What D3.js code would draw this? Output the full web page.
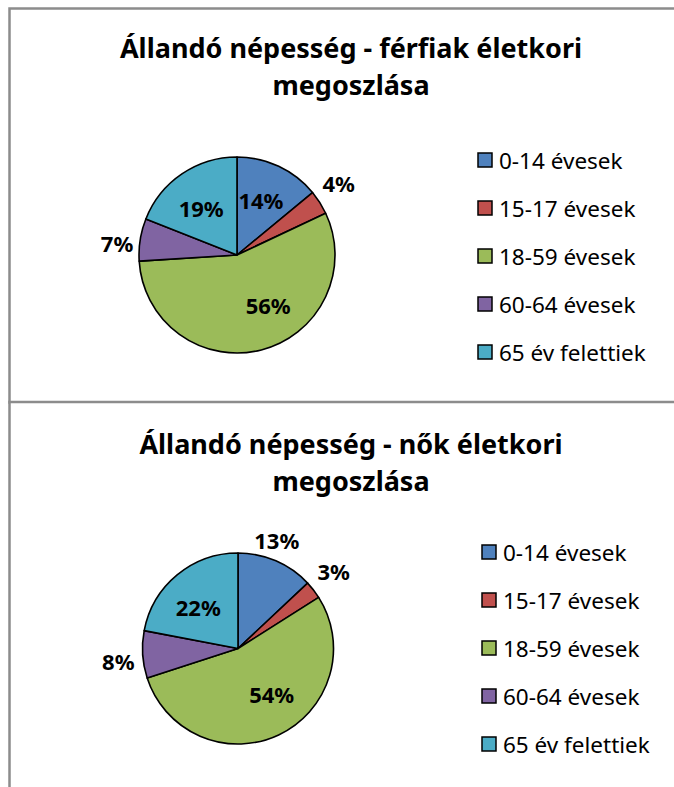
<!DOCTYPE html>
<html>
<head>
<meta charset="utf-8">
<script src="https://cdn.jsdelivr.net/npm/d3@7"></script>
<style>
  body { margin: 0; background: #fff; }
  text { font-family: "Noto Sans", "Open Sans", sans-serif; }
</style>
</head>
<body>
<script>
// Age groups and the share of each.
const categories = ['0-14 évesek', '15-17 évesek', '18-59 évesek', '60-64 évesek', '65 év felettiek'];
const colors = ['#4F81BD', '#C0504D', '#9BBB59', '#8064A2', '#4BACC6'];

const menValues = [14, 4, 56, 7, 19];
const womenValues = [13, 3, 54, 8, 22];

const menTitle = ['Állandó népesség - férfiak életkori', 'megoszlása'];
const womenTitle = ['Állandó népesség - nők életkori', 'megoszlása'];

// label placement: [radius factor, angle shift in degrees]
const menLabelPos = [[0.61, -1.6], [1.27, -2.8], [0.60, -17.6], [1.23, -3.3], [0.60, -3.3]];
const womenLabelPos = [[1.21, -3.8], [1.29, -1.2], [0.59, -11.5], [1.26, -2.2], [0.60, -4.3]];

const width = 674;
const height = 787;

const svg = d3.select('body')
  .append('svg')
  .attr('width', width)
  .attr('height', height);

const color = d3.scaleOrdinal()
  .domain(categories)
  .range(colors);

const pie = d3.pie()
  .value(d => d.value)
  .sort(null);

const drawPanel = (cfg) => {
  const g = svg.append('g');

  // panel frame (only left and top edges fall inside the picture)
  g.append('rect')
    .attr('x', 9.5)
    .attr('y', cfg.top)
    .attr('width', width + 20)
    .attr('height', cfg.height)
    .attr('fill', '#fff')
    .attr('stroke', '#8c8c8c')
    .attr('stroke-width', 2.5);

  g.append('text')
    .attr('text-anchor', 'middle')
    .attr('font-weight', 'bold')
    .attr('font-size', 27)
    .attr('fill', '#000')
    .selectAll('tspan')
    .data(cfg.title)
    .join('tspan')
    .attr('x', cfg.titleX)
    .attr('y', (d, i) => cfg.titleY + i * 37)
    .text(d => d);

  const data = categories.map((c, i) => ({ key: c, value: cfg.values[i] }));
  const arcs = pie(data);

  const arc = d3.arc()
    .innerRadius(0)
    .outerRadius(cfg.r);

  const pieG = g.append('g')
    .attr('transform', `translate(${cfg.cx}, ${cfg.cy})`);

  pieG.selectAll('path')
    .data(arcs)
    .join('path')
    .attr('d', arc)
    .attr('fill', d => color(d.data.key))
    .attr('stroke', '#000')
    .attr('stroke-width', 1.6)
    .attr('stroke-linejoin', 'round');

  pieG.selectAll('text')
    .data(arcs)
    .join('text')
    .attr('transform', (d, i) => {
      const [f, shift] = cfg.labelPos[i];
      const a = (d.startAngle + d.endAngle) / 2 + shift * Math.PI / 180;
      const rr = cfg.r * f;
      return `translate(${rr * Math.sin(a)}, ${-rr * Math.cos(a)})`;
    })
    .attr('text-anchor', 'middle')
    .attr('dominant-baseline', 'central')
    .attr('font-weight', 'bold')
    .attr('font-size', 22)
    .attr('fill', '#000')
    .text(d => d.data.value + '%');

  const legend = g.append('g')
    .attr('transform', `translate(${cfg.legendX}, ${cfg.legendY})`);

  const item = legend.selectAll('g')
    .data(categories)
    .join('g')
    .attr('transform', (d, i) => `translate(0, ${i * 48})`);

  item.append('rect')
    .attr('x', 0)
    .attr('y', -7)
    .attr('width', 14)
    .attr('height', 14)
    .attr('fill', d => color(d))
    .attr('stroke', '#000')
    .attr('stroke-width', 1.5);

  item.append('text')
    .attr('x', 21)
    .attr('dominant-baseline', 'central')
    .attr('font-size', 22.5)
    .attr('fill', '#000')
    .text(d => d);
};

drawPanel({
  top: 8.5, height: 394, title: menTitle, titleX: 351, titleY: 58,
  values: menValues, labelPos: menLabelPos, cx: 237, cy: 255, r: 98,
  legendX: 478, legendY: 160
});

drawPanel({
  top: 402, height: 420, title: womenTitle, titleX: 351, titleY: 454,
  values: womenValues, labelPos: womenLabelPos, cx: 238, cy: 648.5, r: 95.5,
  legendX: 482, legendY: 552
});
</script>
</body>
</html>
